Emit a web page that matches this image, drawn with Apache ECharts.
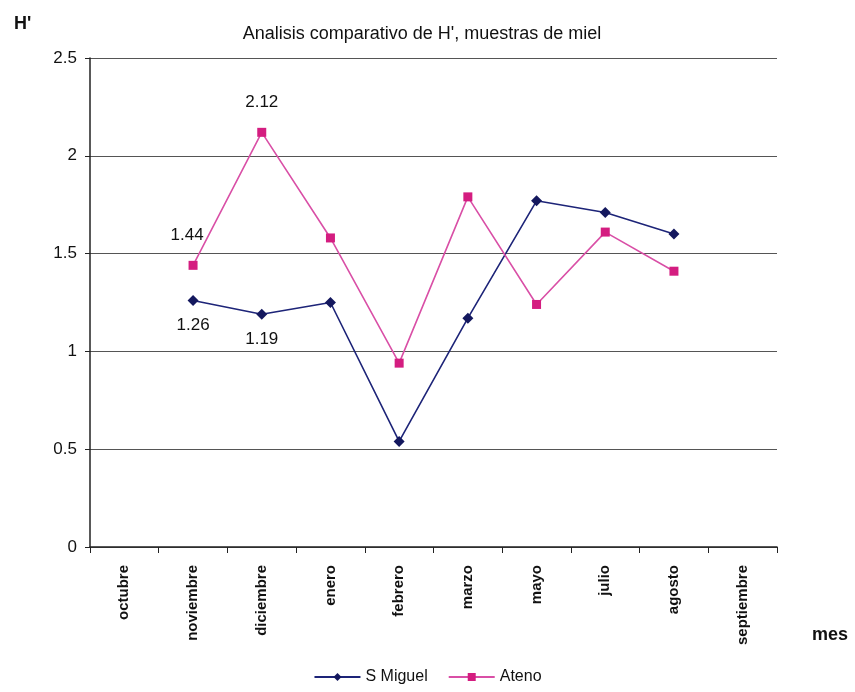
<!DOCTYPE html>
<html>
<head>
<meta charset="utf-8">
<script src="https://cdn.jsdelivr.net/npm/echarts@6/dist/echarts.min.js"></script>
<style>
  html, body { margin: 0; padding: 0; background: #fff; }
  #chart { width: 855px; height: 692px; }
</style>
</head>
<body>
<div id="chart"></div>
<script>
var months = ['octubre', 'noviembre', 'diciembre', 'enero', 'febrero', 'marzo', 'mayo', 'julio', 'agosto', 'septiembre'];
var sMiguel = [null, 1.26, 1.19, 1.25, 0.54, 1.17, 1.77, 1.71, 1.60, null];
var ateno = [null, 1.44, 2.12, 1.58, 0.94, 1.79, 1.24, 1.61, 1.41, null];
// only these points carry a value label in the original
var sMiguelLabeled = [1, 2];
var atenoLabeled = [1, 2];

var font = 'Liberation Sans, Arial, sans-serif';

function withLabels(values, labeled, pos, offset) {
    return values.map(function (v, i) {
        if (labeled.indexOf(i) < 0) return v;
        return {
            value: v,
            label: {
                show: true,
                position: pos,
                offset: offset[labeled.indexOf(i)],
                color: '#111',
                fontSize: 17,
                fontFamily: font,
                formatter: function (p) { return p.value.toFixed(2); }
            }
        };
    });
}

var chart = echarts.init(document.getElementById('chart'));

chart.setOption({
    animation: false,
    backgroundColor: '#fff',
    title: [
        {
            text: 'Analisis comparativo de H\', muestras de miel',
            left: 417, top: 20, textAlign: 'center',
            textStyle: { fontSize: 18, fontWeight: 'normal', color: '#111', fontFamily: font }
        },
        {
            text: 'H\'',
            left: 9, top: 10,
            textStyle: { fontSize: 18, fontWeight: 'bold', color: '#111', fontFamily: font }
        },
        {
            text: 'mes',
            left: 807, top: 621,
            textStyle: { fontSize: 18, fontWeight: 'bold', color: '#111', fontFamily: font }
        }
    ],
    legend: {
        bottom: 2, left: 'center',
        itemWidth: 46, itemHeight: 10, itemGap: 20,
        textStyle: { fontSize: 16, color: '#111', fontFamily: font },
        data: ['S Miguel', 'Ateno']
    },
    grid: { left: 90, right: 78, top: 58, bottom: 145 },
    xAxis: {
        type: 'category',
        data: months,
        boundaryGap: true,
        axisLine: { lineStyle: { color: '#222', width: 1.5 } },
        axisTick: { show: true, length: 6, lineStyle: { color: '#222' } },
        axisLabel: {
            rotate: 90, margin: 18, color: '#111',
            fontSize: 15, fontWeight: 'bold', fontFamily: font
        }
    },
    yAxis: {
        type: 'value',
        min: 0, max: 2.5, interval: 0.5,
        axisLine: { show: true, lineStyle: { color: '#222', width: 1.5 } },
        axisTick: { show: true, length: 5, lineStyle: { color: '#222' } },
        axisLabel: { color: '#111', fontSize: 17, fontFamily: font, margin: 13 },
        splitLine: { lineStyle: { color: '#555', width: 1.2 } }
    },
    series: [
        {
            name: 'S Miguel',
            type: 'line',
            data: withLabels(sMiguel, sMiguelLabeled, 'bottom', [[0, 6], [0, 6]]),
            symbol: 'diamond', symbolSize: 11,
            lineStyle: { color: '#1d2478', width: 1.6 },
            itemStyle: { color: '#14185e' },
            connectNulls: false
        },
        {
            name: 'Ateno',
            type: 'line',
            data: withLabels(ateno, atenoLabeled, 'top', [[-6, -12], [0, -12]]),
            symbol: 'rect', symbolSize: 9,
            lineStyle: { color: '#d94fa6', width: 1.6 },
            itemStyle: { color: '#d41d80' },
            connectNulls: false
        }
    ]
});
</script>
</body>
</html>
